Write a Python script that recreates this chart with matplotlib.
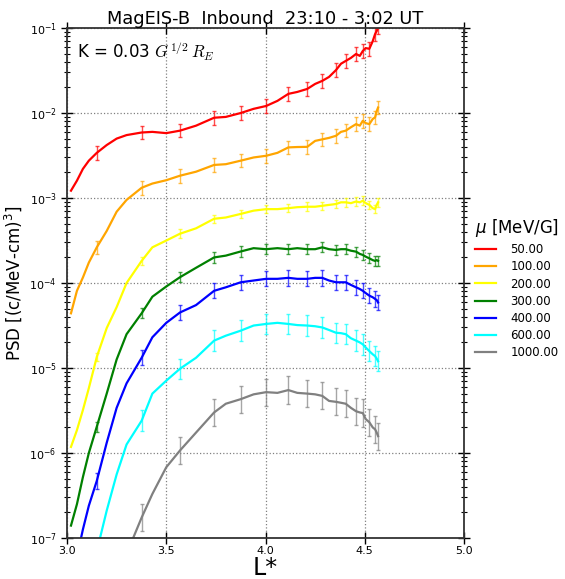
import numpy as np
import matplotlib
matplotlib.use('Agg')
import matplotlib.pyplot as plt

nan = np.nan

# L* grid shared by all curves
lstar = [3.02, 3.05, 3.08, 3.11, 3.15, 3.2, 3.25, 3.3, 3.376, 3.43, 3.5, 3.569,
         3.65, 3.741, 3.8, 3.875, 3.94, 4.003, 4.06, 4.115, 4.16, 4.21, 4.25,
         4.286, 4.32, 4.355, 4.38, 4.404, 4.43, 4.456, 4.475, 4.49, 4.505,
         4.523, 4.54, 4.552, 4.56, 4.567]

# L* where error bars are drawn
err_lstar = [3.15, 3.376, 3.569, 3.741, 3.875, 4.003, 4.115, 4.21, 4.286,
             4.355, 4.404, 4.456, 4.49, 4.523, 4.552, 4.567]

mu_labels = ['50.00', '100.00', '200.00', '300.00', '400.00', '600.00', '1000.00']
colors = ['red', 'orange', 'yellow', 'green', 'blue', 'cyan', 'gray']

psd_50 = [1.22e-3, 1.6e-3, 2.2e-3, 2.75e-3, 3.4e-3, 4.2e-3, 5.0e-3, 5.5e-3, 5.9e-3,
          6.0e-3, 5.8e-3, 6.2e-3, 7.1e-3, 8.8e-3, 9.0e-3, 1.0e-2, 1.12e-2, 1.21e-2,
          1.39e-2, 1.68e-2, 1.77e-2, 1.92e-2, 2.2e-2, 2.39e-2, 2.66e-2, 3.2e-2,
          3.8e-2, 4.1e-2, 4.45e-2, 4.95e-2, 4.7e-2, 5.37e-2, 5.8e-2, 5.7e-2,
          7.0e-2, 8.5e-2, 9.2e-2, 1.02e-1]
psd_100 = [4.4e-5, 8.1e-5, 1.16e-4, 1.74e-4, 2.63e-4, 4.1e-4, 6.9e-4, 9.5e-4, 1.32e-3,
           1.48e-3, 1.62e-3, 1.83e-3, 2.04e-3, 2.45e-3, 2.5e-3, 2.75e-3, 3.0e-3,
           3.14e-3, 3.4e-3, 3.94e-3, 3.98e-3, 4.0e-3, 4.7e-3, 4.9e-3, 5.1e-3,
           5.4e-3, 6.0e-3, 6.2e-3, 6.8e-3, 7.4e-3, 7.1e-3, 8.1e-3, 7.6e-3, 7.4e-3,
           8.5e-3, 8.9e-3, 1.05e-2, 1.16e-2]
psd_200 = [1.18e-6, 1.86e-6, 3.2e-6, 5.8e-6, 1.35e-5, 2.95e-5, 5.2e-5, 1.0e-4, 1.82e-4,
           2.63e-4, 3.16e-4, 3.8e-4, 4.4e-4, 5.7e-4, 5.9e-4, 6.5e-4, 7.1e-4, 7.4e-4,
           7.4e-4, 7.6e-4, 7.8e-4, 7.9e-4, 7.9e-4, 8.1e-4, 8.3e-4, 8.5e-4, 8.9e-4,
           8.9e-4, 8.7e-4, 9.1e-4, 8.9e-4, 9.3e-4, 8.7e-4, 8.3e-4, 7.6e-4, 7.4e-4,
           8.3e-4, 8.9e-4]
psd_300 = [1.4e-7, 2.5e-7, 5.2e-7, 1.0e-6, 2.04e-6, 5.0e-6, 1.26e-5, 2.5e-5, 4.4e-5,
           6.9e-5, 9.1e-5, 1.17e-4, 1.51e-4, 2.0e-4, 2.1e-4, 2.35e-4, 2.57e-4, 2.5e-4,
           2.57e-4, 2.5e-4, 2.57e-4, 2.5e-4, 2.5e-4, 2.63e-4, 2.5e-4, 2.45e-4, 2.5e-4,
           2.5e-4, 2.4e-4, 2.34e-4, 2.2e-4, 2.14e-4, 2.04e-4, 1.95e-4, 1.86e-4,
           1.82e-4, 1.86e-4, 1.82e-4]
psd_400 = [nan, 6e-8, 1.26e-7, 2.4e-7, 4.7e-7, 1.32e-6, 3.4e-6, 6.6e-6, 1.32e-5,
           2.3e-5, 3.4e-5, 4.5e-5, 5.5e-5, 8.1e-5, 8.9e-5, 1.02e-4, 1.07e-4, 1.12e-4,
           1.12e-4, 1.15e-4, 1.12e-4, 1.12e-4, 1.15e-4, 1.15e-4, 1.07e-4, 1.02e-4,
           1.02e-4, 1.02e-4, 9.5e-5, 8.9e-5, 8.5e-5, 8.1e-5, 7.6e-5, 7.1e-5, 6.8e-5,
           6.5e-5, 6.3e-5, 5.9e-5]
psd_600 = [nan, nan, nan, nan, 7e-8, 2.1e-7, 5.6e-7, 1.26e-6, 2.4e-6, 5.0e-6, 7.1e-6,
           9.8e-6, 1.32e-5, 2.1e-5, 2.4e-5, 2.75e-5, 3.16e-5, 3.3e-5, 3.4e-5, 3.3e-5,
           3.2e-5, 3.16e-5, 3.1e-5, 3.0e-5, 2.8e-5, 2.6e-5, 2.57e-5, 2.5e-5, 2.24e-5,
           2.1e-5, 2.0e-5, 1.9e-5, 1.74e-5, 1.58e-5, 1.45e-5, 1.38e-5, 1.29e-5, 1.2e-5]
psd_1000 = [nan, nan, nan, nan, nan, nan, nan, 6.5e-8, 1.74e-7, 3.3e-7, 6.8e-7, 1.07e-6,
            1.74e-6, 3.0e-6, 3.8e-6, 4.3e-6, 4.9e-6, 5.2e-6, 5.1e-6, 5.5e-6, 5.1e-6,
            5.0e-6, 4.9e-6, 4.7e-6, 4.1e-6, 4.0e-6, 3.9e-6, 3.8e-6, 3.4e-6, 3.1e-6,
            3.0e-6, 2.95e-6, 2.5e-6, 2.3e-6, 2.0e-6, 1.9e-6, 1.74e-6, 1.58e-6]

# error bar half-size in decades, per curve
err_dex = [0.08, 0.08, 0.05, 0.06, 0.09, 0.12, 0.16]

series = [psd_50, psd_100, psd_200, psd_300, psd_400, psd_600, psd_1000]

fig = plt.figure(figsize=(5.65, 5.79), dpi=100)
ax = fig.add_axes([0.1186, 0.0708, 0.7027, 0.8808])

L = np.array(lstar)
has_err = np.isin(L, err_lstar)

for psd, lab, c, e in zip(series, mu_labels, colors, err_dex):
    psd = np.array(psd)
    ax.plot(L, psd, color=c, lw=1.6, label=lab)
    m = has_err & ~np.isnan(psd)
    v = psd[m]
    lo = v * (1 - 10 ** (-e))
    hi = v * (10 ** e - 1)
    ax.errorbar(L[m], v, yerr=[lo, hi], fmt='none', ecolor=c, elinewidth=1,
                capsize=1.5, alpha=0.7)

ax.set_yscale('log')
ax.set_xlim(3.0, 5.0)
ax.set_ylim(1e-7, 1e-1)
ax.set_xticks([3.0, 3.5, 4.0, 4.5, 5.0])
ax.set_xticklabels(['3.0', '3.5', '4.0', '4.5', '5.0'])
ax.tick_params(axis='both', which='major', direction='inout', length=8, width=1,
               labelsize=8, top=True, right=True)
ax.tick_params(axis='x', which='major', pad=2)
ax.tick_params(axis='y', which='minor', direction='inout', length=4, width=0.8,
               right=True)
ax.grid(True, which='major', linestyle=':', color='gray', lw=0.9)
for s in ax.spines.values():
    s.set_color('#333333')
    s.set_linewidth(1.3)

ax.set_xlabel('L*', fontsize=17, labelpad=0)
ax.set_ylabel('PSD [(c/MeV-cm)$^3$]', fontsize=12, labelpad=4)
ax.set_title('MagEIS-B  Inbound  23:10 - 3:02 UT', fontsize=12.8, pad=3)
ax.text(0.025, 0.975, 'K = 0.03 $G^{1/2}\\,R_E$', transform=ax.transAxes,
        fontsize=12, va='top', ha='left', math_fontfamily='cm')

leg = ax.legend(loc='upper left', bbox_to_anchor=(1.0, 0.65), frameon=False,
                title='$\\mu$ [MeV/G]', fontsize=8.5, title_fontsize=12,
                handlelength=1.8, handletextpad=1.2, labelspacing=0.35)

fig.savefig('out.png', dpi=100)
